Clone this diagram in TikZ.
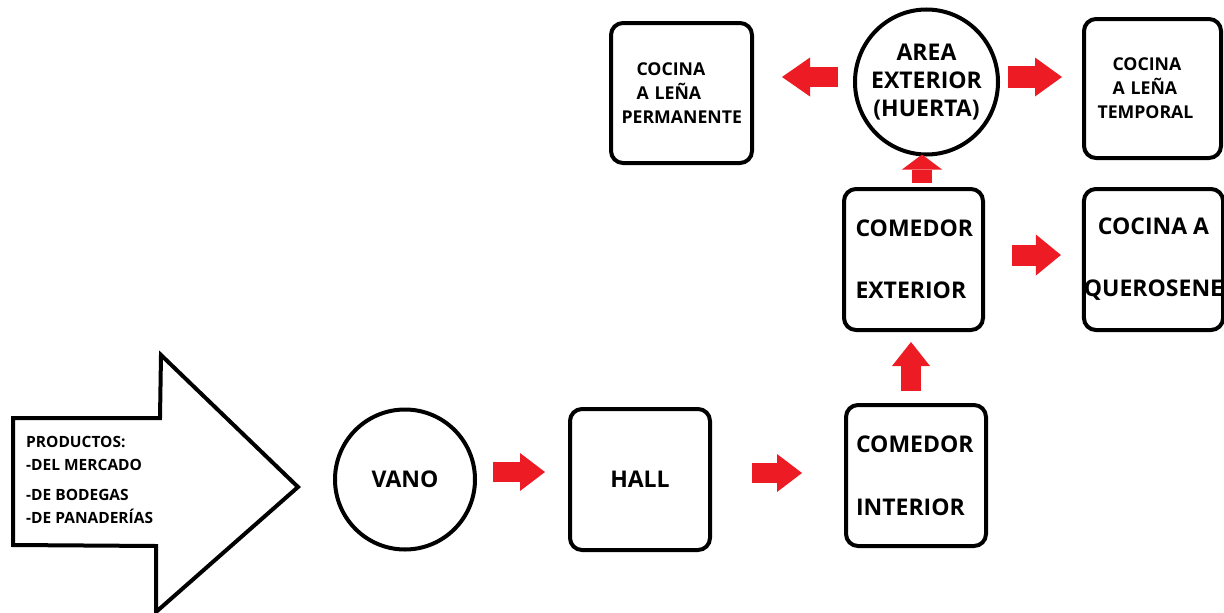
\documentclass[tikz,border=0pt]{standalone}
\usepackage{fontspec}
\setmainfont{Open Sans}
\usetikzlibrary{arrows.meta,shapes.geometric,calc}
\definecolor{arrred}{RGB}{237,28,36}
\newcommand\fntbig{\fontsize{23}{28}\selectfont\bfseries}
\newcommand\fntsmall{\fontsize{17.7}{24}\selectfont\bfseries}
\newcommand\fntprod{\fontsize{15.5}{23}\selectfont\bfseries}
\hyphenpenalty=10000
\tikzset{
  box/.style={draw, line width=4pt, rounded corners=12pt, minimum width=140pt,
    minimum height=141pt, inner sep=0pt, font=\fntbig},
  circ/.style={circle, draw, line width=4pt, minimum size=140pt, inner sep=0pt, font=\fntbig},
  oval/.style={ellipse, draw, line width=4pt, minimum width=143pt, minimum height=145pt, inner sep=0pt},
  bigtext/.style={font=\fntbig, inner sep=0pt},
  blk/.style={draw=arrred, line width=20pt,
    -{Triangle[width=38pt,length=25pt,line width=0pt,fill=arrred]}},
  outline/.style={draw, line width=4pt, line join=miter},
}
\begin{document}
\begin{tikzpicture}[x=1pt,y=-1pt]
\useasboundingbox (0,0) rectangle (1224,613);
% big input arrow
\draw[outline] (13,418) -- (160,418) -- (161,355) -- (298,487) -- (156,612)
  -- (156,546) -- (13,545) -- cycle;
\node[font=\fntprod, align=left, anchor=west, inner sep=0pt] (prod) at (26,480)
  {PRODUCTOS:\\-DEL MERCADO\\[7pt]-DE BODEGAS\\-DE PANADERÍAS};
% nodes
\node[circ] (vano) at (405,479.5) {VANO};
\node[box] (hall) at (640,479.5) {HALL};
\node[box, text width=124pt, align=left] (comint) at (916,475.5)
  {\hspace*{2pt}COMEDOR\\[35pt]\hspace*{2pt}INTERIOR};
\node[box, minimum width=139pt, text width=124pt, align=left] (comext) at (913.5,259.5)
  {\mbox{\hspace*{4pt}COMEDOR}\\[34pt]\hspace*{4pt}EXTERIOR};
\node[box, minimum width=137pt, align=center] (quer) at (1153.5,259.5) {COCINA A\\[34pt]QUEROSENE};
\node[box, minimum width=137pt, minimum height=139pt, font=\fntsmall, text width=120pt, align=left]
  (temp) at (1152.5,88.5) {\hspace*{20pt}COCINA\\\hspace*{20pt}A LEÑA\\\hspace*{5pt}TEMPORAL};
\node[box, minimum width=141pt, minimum height=140pt, font=\fntsmall, text width=124pt, align=left]
  (perm) at (681.5,93) {\hspace*{17pt}COCINA\\\hspace*{17pt}A LEÑA\\\hspace*{2pt}PERMANENTE};
\node[oval] (area) at (926.5,82) {};
\node[bigtext, align=center] (areaT) at (area.center) {AREA\\EXTERIOR\\(HUERTA)};
% connectors
\draw[blk] ([xshift=16pt,yshift=7.5pt]vano.east) -- ([xshift=-23pt,yshift=7.5pt]hall.west);
\draw[blk] ([xshift=40pt,yshift=6.5pt]hall.east) -- ([xshift=-42pt,yshift=2.5pt]comint.west);
\draw[blk, -{Triangle[width=38pt,length=24pt,line width=0pt,fill=arrred]}]
  ([xshift=-5pt,yshift=12pt]comint.north) -- ([xshift=-2.5pt,yshift=-10pt]comext.south);
\draw[blk, -{Triangle[width=40pt,length=15pt,line width=0pt,fill=arrred]}]
  ([xshift=8.5pt,yshift=4pt]comext.north) -- ([xshift=-4.5pt,yshift=2pt]area.south);
\draw[blk, line width=21pt, -{Triangle[width=41pt,length=25pt,line width=0pt,fill=arrred]}]
  ([xshift=27pt,yshift=4.5pt]comext.east) -- ([xshift=-21pt,yshift=4.5pt]quer.west);
\draw[blk, -{Triangle[width=39pt,length=28pt,line width=0pt,fill=arrred]}]
  ([xshift=-15pt,yshift=5pt]area.west) -- ([xshift=28pt,yshift=16pt]perm.east);
\draw[blk, line width=22pt, -{Triangle[width=39pt,length=27pt,line width=0pt,fill=arrred]}]
  ([xshift=8pt,yshift=5pt]area.east) -- ([xshift=-20pt,yshift=11.5pt]temp.west);
\end{tikzpicture}
\end{document}
